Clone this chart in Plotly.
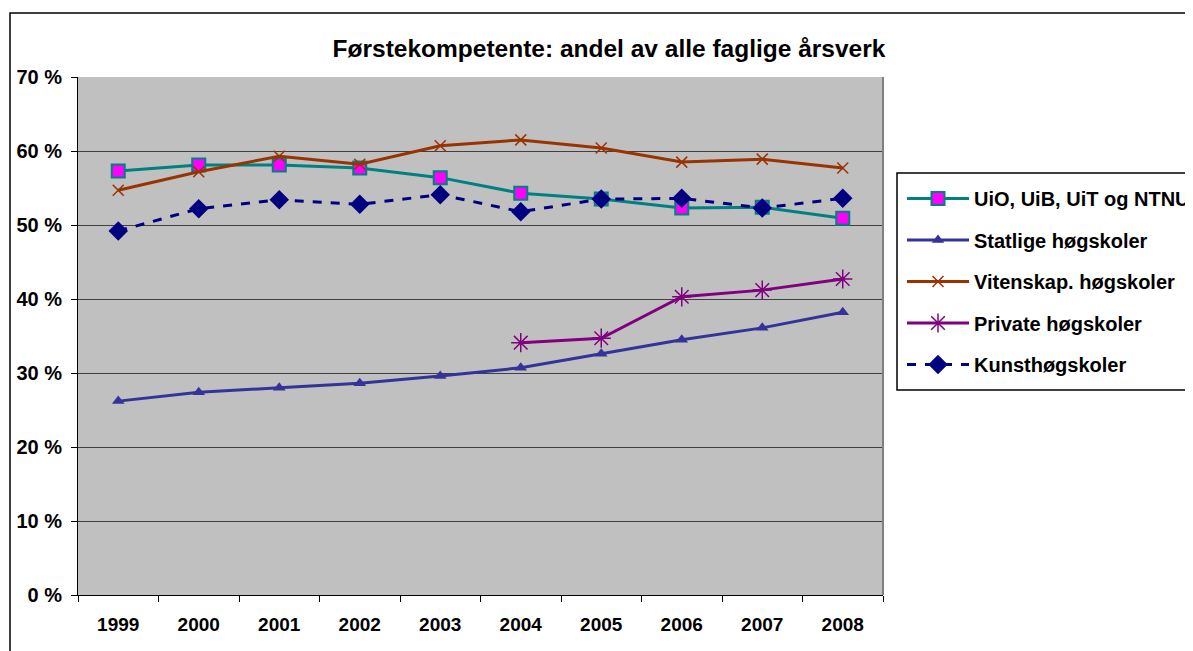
import plotly.graph_objects as go

years = ["1999", "2000", "2001", "2002", "2003", "2004", "2005", "2006", "2007", "2008"]
uio = [57.3, 58.1, 58.1, 57.7, 56.4, 54.3, 53.5, 52.3, 52.4, 50.9]
statlige = [26.2, 27.4, 28.0, 28.6, 29.6, 30.7, 32.6, 34.5, 36.1, 38.2]
vitenskap = [54.7, 57.2, 59.3, 58.2, 60.7, 61.5, 60.4, 58.5, 58.9, 57.7]
private = [None, None, None, None, None, 34.1, 34.7, 40.3, 41.2, 42.7]
kunst = [49.2, 52.2, 53.4, 52.8, 54.1, 51.8, 53.5, 53.6, 52.3, 53.6]

FONT = "Arial, Liberation Sans, sans-serif"

fig = go.Figure()
fig.add_trace(go.Scatter(x=years, y=uio, name="<b>UiO, UiB, UiT og NTNU</b>", mode="lines+markers",
                         line=dict(color="#008080", width=3),
                         marker=dict(symbol="square", size=13, color="#FF00FF",
                                     line=dict(color="#008080", width=2)), legendgroup="a"))
fig.add_trace(go.Scatter(x=years, y=statlige, name="<b>Statlige høgskoler</b>", mode="lines+markers",
                         line=dict(color="#333399", width=3),
                         marker=dict(symbol="triangle-up", size=11, color="#333399"), legendgroup="b"))
fig.add_trace(go.Scatter(x=years, y=vitenskap, name="<b>Vitenskap. høgskoler</b>", mode="lines+markers",
                         line=dict(color="#993300", width=3),
                         marker=dict(symbol="x-thin", size=11, color="#993300",
                                     line=dict(color="#993300", width=1.5)), legendgroup="c"))
fig.add_trace(go.Scatter(x=years, y=private, name="<b>Private høgskoler</b>", mode="lines+markers",
                         line=dict(color="#800080", width=3),
                         marker=dict(symbol="asterisk", size=16, color="#800080",
                                     line=dict(color="#800080", width=1.5)), legendgroup="d"))
fig.add_trace(go.Scatter(x=years, y=kunst, name="<b>Kunsthøgskoler</b>", mode="lines+markers",
                         line=dict(color="#000080", width=3, dash="dash"),
                         marker=dict(symbol="diamond", size=15, color="#000080"), legendgroup="e"))

# page body has an 8px margin, so figure coords = screenshot coords - 8
OFF = 8
L, R, T, B = 78 - OFF, 883 - OFF, 77 - OFF, 595 - OFF
W, H = 1193, 651

def px(x):
    return (x - OFF - L) / (R - L)

def py(y):
    return (B - (y - OFF)) / (B - T)

fig.update_layout(
    width=W, height=H,
    margin=dict(l=L, r=W - R, t=T, b=H - B, autoexpand=False),
    paper_bgcolor="white", plot_bgcolor="#C0C0C0",
    font=dict(family=FONT, size=16, color="black"),
    title=dict(text="<b>Førstekompetente: andel av alle faglige årsverk</b>",
               x=(609 - OFF) / W, xanchor="center", y=1 - (48 - OFF) / H, yanchor="middle",
               font=dict(family=FONT, size=24.5, color="black")),
    showlegend=True,
    legend=dict(x=px(902), y=py(179), xanchor="left", yanchor="top",
                bgcolor="rgba(0,0,0,0)", borderwidth=0,
                font=dict(family=FONT, size=20, color="black"),
                tracegroupgap=12.5, traceorder="grouped", itemwidth=62),
    xaxis=dict(type="category", showgrid=False, showline=True, linecolor="black", linewidth=1,
               ticks="outside", tickson="boundaries", ticklen=6, tickcolor="black",
               ticklabelstandoff=12,
               tickfont=dict(family=FONT, size=19, color="black", weight="bold"),
               range=[-0.5, 9.5], fixedrange=True),
    yaxis=dict(range=[0, 70], dtick=10, ticksuffix=" %", showgrid=True, gridcolor="#404040",
               gridwidth=1, showline=True, linecolor="black", linewidth=1,
               ticks="outside", ticklen=6, tickcolor="black", zeroline=False,
               ticklabelstandoff=5,
               tickfont=dict(family=FONT, size=20, color="black", weight="bold")),
    shapes=[
        dict(type="line", xref="paper", yref="paper", x0=1, x1=1, y0=0, y1=1,
             line=dict(color="#808080", width=2)),
        dict(type="rect", xref="paper", yref="paper", x0=px(10), x1=px(1300), y0=py(13), y1=py(700),
             line=dict(color="black", width=1.5), layer="below"),
        dict(type="rect", xref="paper", yref="paper", x0=px(897), x1=px(1300), y0=py(173), y1=py(390),
             line=dict(color="black", width=1.5), fillcolor="white", layer="below"),
    ],
)

fig.write_html("out.html")
